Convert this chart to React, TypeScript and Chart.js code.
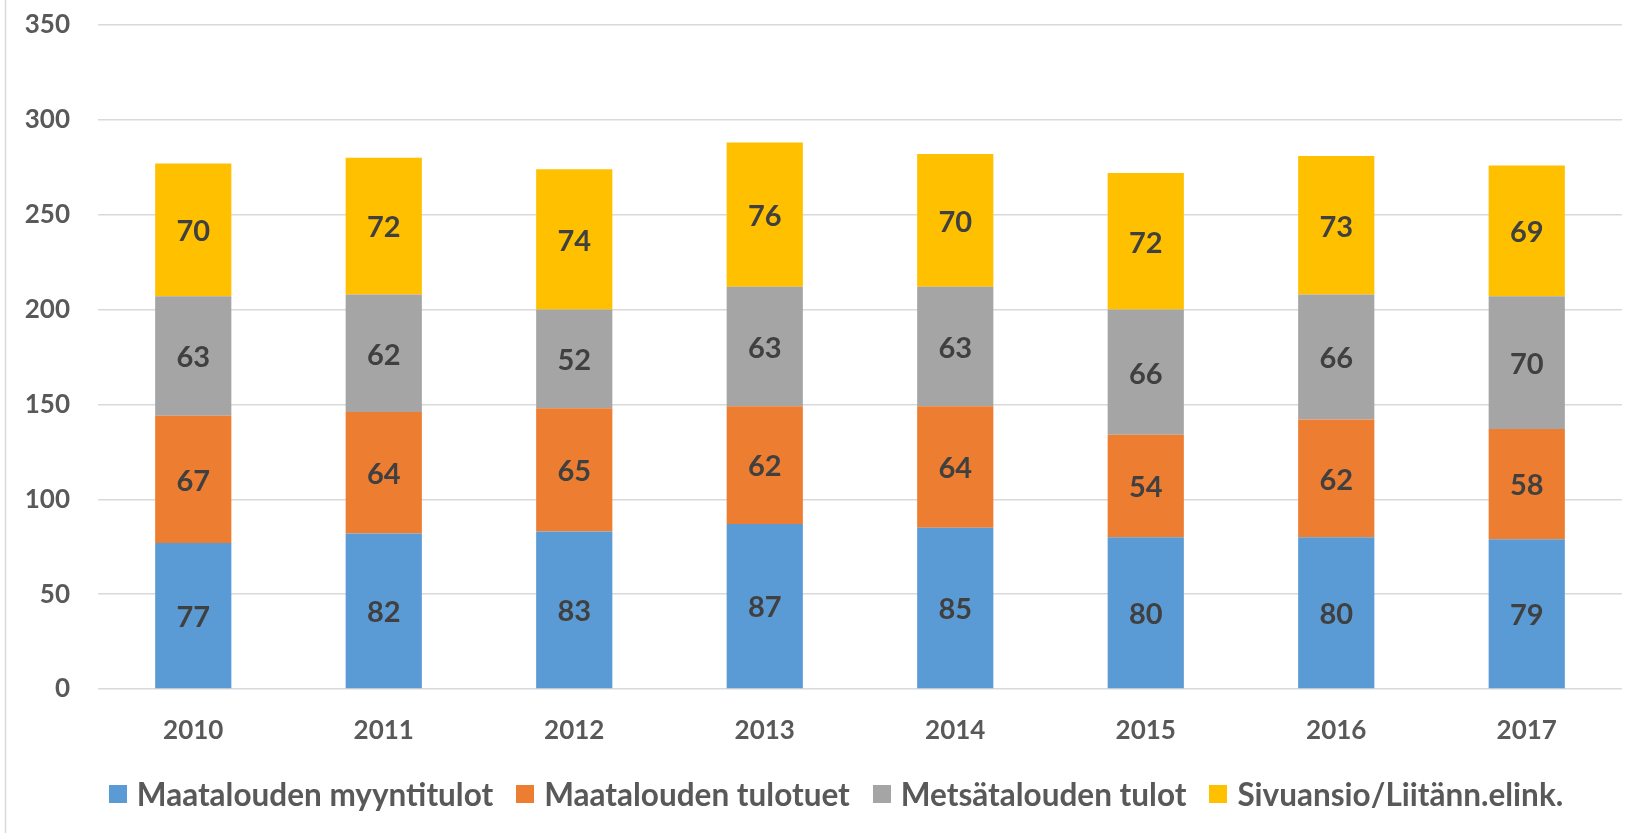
import React, { useEffect, useRef } from "react";
import { Chart, registerables } from "chart.js";

Chart.register(...registerables);

const years = ["2010", "2011", "2012", "2013", "2014", "2015", "2016", "2017"];
const myyntitulot = [77, 82, 83, 87, 85, 80, 80, 79];
const tulotuet = [67, 64, 65, 62, 64, 54, 62, 58];
const metsatalous = [63, 62, 52, 63, 63, 66, 66, 70];
const sivuansio = [70, 72, 74, 76, 70, 72, 73, 69];
const seriesNames = [
  "Maatalouden myyntitulot",
  "Maatalouden tulotuet",
  "Metsätalouden tulot",
  "Sivuansio/Liitänn.elink.",
];
const seriesColors = ["#5b9bd5", "#ed7d31", "#a5a5a5", "#ffc000"];
const yTickMax = 350;
const yTickStep = 50;

const FONT = "Lato, 'Open Sans', sans-serif";

const dataLabelPlugin = {
  id: "segLabels",
  afterDatasetsDraw(chart: any) {
    const ctx = chart.ctx;
    ctx.save();
    ctx.font = `bold 29px ${FONT}`;
    ctx.fillStyle = "#404040";
    ctx.textAlign = "center";
    ctx.textBaseline = "middle";
    chart.data.datasets.forEach((ds: any, i: number) => {
      const meta = chart.getDatasetMeta(i);
      meta.data.forEach((bar: any, j: number) => {
        const cy = (bar.y + bar.base) / 2 + 2;
        ctx.fillText(String(ds.data[j]), bar.x, cy);
      });
    });
    ctx.restore();
  },
};

const borderPlugin = {
  id: "leftBorder",
  beforeDraw(chart: any) {
    const ctx = chart.ctx;
    ctx.save();
    ctx.fillStyle = "#ffffff";
    ctx.fillRect(0, 0, chart.width, chart.height);
    ctx.strokeStyle = "#d9d9d9";
    ctx.lineWidth = 1.5;
    ctx.beginPath();
    ctx.moveTo(5.5, 0);
    ctx.lineTo(5.5, chart.height);
    ctx.stroke();
    ctx.restore();
  },
};

export default function App() {
  const ref = useRef<HTMLCanvasElement | null>(null);
  useEffect(() => {
    if (!ref.current) return;
    const values = [myyntitulot, tulotuet, metsatalous, sivuansio];
    const chart = new Chart(ref.current, {
      type: "bar",
      data: {
        labels: years,
        datasets: values.map((v, i) => ({
          label: seriesNames[i],
          data: v,
          backgroundColor: seriesColors[i],
          borderWidth: 0,
          categoryPercentage: 1,
          barPercentage: 0.4,
        })),
      },
      options: {
        responsive: false,
        animation: false,
        devicePixelRatio: 1,
        layout: { padding: { top: 25, right: 20, bottom: 66, left: 0 } },
        plugins: {
          legend: { display: false },
          tooltip: { enabled: false },
        },
        scales: {
          x: {
            stacked: true,
            grid: { display: false },
            border: { display: false },
            ticks: {
              font: { family: FONT, size: 26, weight: "bold" },
              color: "#595959",
              padding: 18,
            },
            afterFit: (s: any) => {
              s.height = 78;
            },
          },
          y: {
            stacked: true,
            min: 0,
            max: yTickMax,
            grid: { color: "#d9d9d9", lineWidth: 1.5, drawTicks: false },
            border: { display: false },
            ticks: {
              stepSize: yTickStep,
              font: { family: FONT, size: 26, weight: "bold" },
              color: "#595959",
              padding: 28,
            },
            afterFit: (s: any) => {
              s.width = 98;
              s.paddingTop = 0;
              s.paddingBottom = 0;
            },
          },
        },
      },
      plugins: [borderPlugin, dataLabelPlugin],
    });
    return () => chart.destroy();
  }, []);
  return (
    <div style={{ position: "absolute", left: 0, top: 0, width: 1642, height: 833, background: "#fff" }}>
      <canvas ref={ref} width={1642} height={833} style={{ display: "block" }} />
      <div
        style={{
          position: "absolute",
          left: 0,
          width: 1672,
          top: 771,
          height: 46,
          display: "flex",
          justifyContent: "center",
          alignItems: "center",
          fontFamily: FONT,
          fontWeight: "bold",
          fontSize: 31.5,
          color: "#595959",
          whiteSpace: "nowrap",
        }}
      >
        {seriesNames.map((name, i) => (
          <div key={name} style={{ display: "flex", alignItems: "center", marginLeft: i === 0 ? 0 : 23 }}>
            <span style={{ display: "inline-block", width: 18, height: 18, background: seriesColors[i], marginRight: 10 }} />
            <span>{name}</span>
          </div>
        ))}
      </div>
    </div>
  );
}
